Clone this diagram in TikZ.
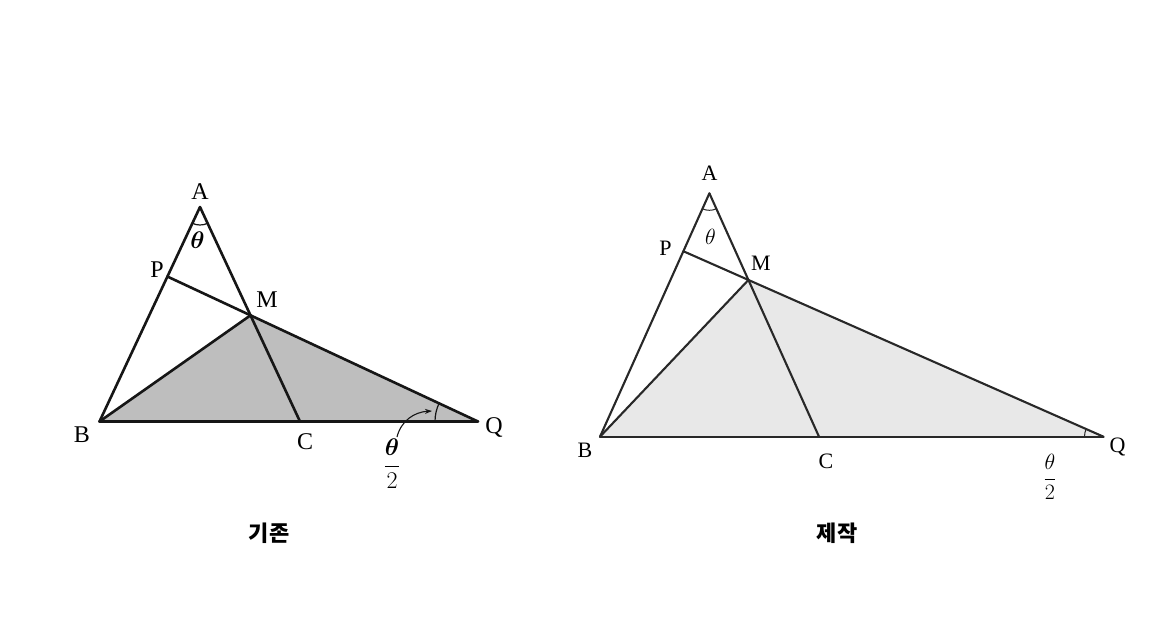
\documentclass[tikz,border=0pt]{standalone}
\usepackage{fix-cm}
\usepackage{amsmath,bm}
\usepackage{fontspec}
\setmainfont{Liberation Serif}
\newfontfamily\krfont{Noto Sans CJK KR}
\usetikzlibrary{calc,intersections,arrows.meta}
\definecolor{lfill}{RGB}{190,190,190}
\definecolor{rfill}{RGB}{232,232,232}
\definecolor{lline}{RGB}{22,22,22}
\definecolor{rline}{RGB}{40,40,40}
\tikzset{
  lseg/.style={draw=lline,line width=2.6pt,line cap=round,line join=round},
  rseg/.style={draw=rline,line width=2.1pt,line cap=round,line join=round},
  larc/.style={draw=lline,line width=1.2pt},
  rarc/.style={draw=rline,line width=1pt},
  llab/.style={inner sep=0pt,font=\fontsize{24}{28}\selectfont},
  rlab/.style={inner sep=0pt,font=\fontsize{22}{26}\selectfont},
  title/.style={inner sep=0pt,font=\krfont\bfseries\fontsize{22}{26}\selectfont}
}
\begin{document}
\begin{tikzpicture}[x=1pt,y=-1pt]
\useasboundingbox (0,0) rectangle (1150,643);
% ===== left figure =====
\coordinate (A1) at (200,207);
\coordinate (B1) at (99.5,421.5);
\coordinate (C1) at (300,421.5);
\coordinate (Q1) at (478,421.5);
\coordinate (M1) at ($(A1)!0.505!(C1)$);
\path[name path=ab1] (A1) -- (B1);
\path[name path=qm1] (Q1) -- ($(Q1)!1.5!(M1)$);
\path[name intersections={of=ab1 and qm1,by=P1}];
\fill[lfill] (B1) -- (M1) -- (Q1) -- cycle;
\draw[lseg] (A1) -- (B1);
\draw[lseg] (A1) -- (C1);
\draw[lseg] (B1) -- (Q1);
\draw[lseg] (B1) -- (M1);
\draw[lseg] (P1) -- (Q1);
\draw[larc] ($(A1)+(65:18)$) arc[start angle=65,end angle=115.1,radius=18];
\draw[larc] ($(Q1)+(180:43)$) arc[start angle=180,end angle=205,radius=43];
\node[llab] (lA) at (200,192) {A};
\node[llab] (lP) at (157,270) {P};
\node[llab] (lM) at (267,300) {M};
\node[llab] (lB) at (82,435) {B};
\node[llab] (lC) at (305,441.5) {C};
\node[llab] (lQ) at (494,427) {Q};
\node[llab] (lth) at (197.5,240) {$\bm{\theta}$};
\node[llab] (lth2) at (392,464) {$\dfrac{\bm{\theta}}{2}$};
\coordinate (arrS) at (397,437);
\coordinate (arrE) at (432,411);
\draw[draw=lline,line width=1.1pt,-{Stealth[length=7pt,width=5pt]}] (arrS) .. controls (401,421) and (414,412) .. (arrE);
\node[title] (t1) at (269,533) {기존};
% ===== right figure =====
\coordinate (A2) at (709.4,193.3);
\coordinate (B2) at (600,436.7);
\coordinate (C2) at (819,436.7);
\coordinate (Q2) at (1103.5,436.7);
\coordinate (M2) at ($(A2)!0.356!(C2)$);
\path[name path=ab2] (A2) -- (B2);
\path[name path=qm2] (Q2) -- ($(Q2)!1.5!(M2)$);
\path[name intersections={of=ab2 and qm2,by=P2}];
\fill[rfill] (B2) -- (M2) -- (Q2) -- cycle;
\draw[rseg] (A2) -- (B2);
\draw[rseg] (A2) -- (C2);
\draw[rseg] (B2) -- (Q2);
\draw[rseg] (B2) -- (M2);
\draw[rseg] (P2) -- (Q2);
\draw[rarc] ($(A2)+(65.8:17)$) arc[start angle=65.8,end angle=114.2,radius=17];
\draw[rarc] ($(Q2)+(180:19)$) arc[start angle=180,end angle=203.8,radius=19];
\node[rlab] (rA) at (709.5,173.3) {A};
\node[rlab] (rP) at (665.5,248.5) {P};
\node[rlab] (rM) at (761,263.3) {M};
\node[rlab] (rB) at (585,450) {B};
\node[rlab] (rC) at (826,461.7) {C};
\node[rlab] (rQ) at (1117.5,446.7) {Q};
\node[rlab] (rth) at (710.5,237) {$\theta$};
\node[rlab] (rth2) at (1050,477) {$\dfrac{\theta}{2}$};
\node[title] (t2) at (837,533) {제작};
\end{tikzpicture}
\end{document}
